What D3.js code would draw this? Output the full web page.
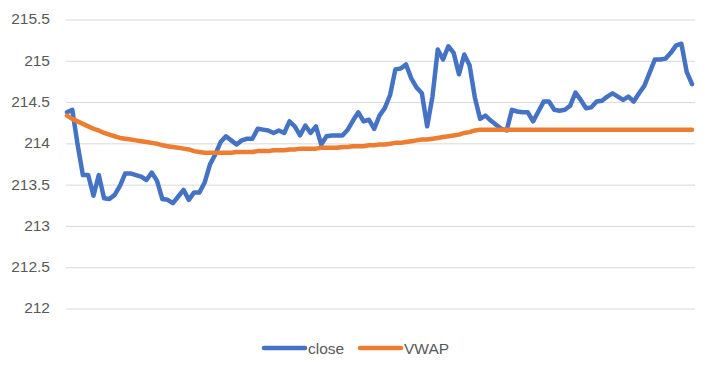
<!DOCTYPE html>
<html><head><meta charset="utf-8">
<script src="https://cdn.jsdelivr.net/npm/d3@7"></script>
<style>body{margin:0;background:#fff}svg{display:block}</style>
</head><body>
<svg id="c" width="711" height="370"></svg>
<script>
const closeVals = [
214.37,214.40,213.98,213.61,213.61,213.36,213.61,213.33,213.32,213.37,
213.48,213.63,213.63,213.61,213.59,213.55,213.64,213.54,213.32,213.31,
213.27,213.35,213.43,213.31,213.40,213.40,213.52,213.74,213.86,214.01,
214.08,214.03,213.98,214.03,214.05,214.05,214.17,214.16,214.15,214.12,
214.15,214.12,214.26,214.20,214.09,214.21,214.12,214.20,213.98,214.08,
214.09,214.09,214.09,214.16,214.27,214.37,214.26,214.28,214.17,214.33,
214.42,214.58,214.89,214.90,214.95,214.78,214.67,214.60,214.20,214.56,
215.13,215.01,215.17,215.09,214.83,215.07,214.94,214.55,214.29,214.33,
214.27,214.22,214.17,214.15,214.40,214.38,214.37,214.37,214.26,214.38,
214.50,214.50,214.40,214.39,214.40,214.45,214.61,214.52,214.42,214.43,
214.50,214.51,214.56,214.60,214.56,214.52,214.56,214.50,214.60,214.69,
214.85,215.01,215.01,215.02,215.09,215.18,215.20,214.86,214.71];
const vwapVals = [
214.33,214.29,214.26,214.23,214.20,214.17,214.15,214.12,214.10,214.08,
214.06,214.05,214.04,214.03,214.02,214.01,214.00,213.99,213.97,213.96,
213.95,213.94,213.93,213.92,213.90,213.89,213.88,213.88,213.88,213.88,
213.88,213.88,213.89,213.89,213.89,213.89,213.90,213.90,213.90,213.91,
213.91,213.91,213.92,213.92,213.93,213.93,213.93,213.93,213.94,213.94,
213.94,213.94,213.95,213.95,213.96,213.96,213.96,213.97,213.97,213.98,
213.98,213.99,214.00,214.00,214.01,214.02,214.03,214.04,214.04,214.05,
214.06,214.07,214.08,214.09,214.10,214.12,214.13,214.15,214.16,214.16,
214.16,214.16,214.16,214.16,214.16,214.16,214.16,214.16,214.16,214.16,
214.16,214.16,214.16,214.16,214.16,214.16,214.16,214.16,214.16,214.16,
214.16,214.16,214.16,214.16,214.16,214.16,214.16,214.16,214.16,214.16,
214.16,214.16,214.16,214.16,214.16,214.16,214.16,214.16,214.16];
const yTicks = [212, 212.5, 213, 213.5, 214, 214.5, 215, 215.5];
const seriesNames = ["close", "VWAP"];
const colors = ["#4472C4", "#ED7D31"];

const svg = d3.select("#c");
const font = "'Liberation Sans', Arial, sans-serif";
const y = d3.scaleLinear().domain([212, 215.5]).range([308, 19]);
const x = d3.scaleLinear().domain([0, closeVals.length - 1]).range([67, 692]);

const yAxis = d3.axisLeft(y).tickValues(yTicks).tickSize(-629).tickPadding(16)
  .tickFormat(d => String(d));
const g = svg.append("g").attr("transform", "translate(66,0)").call(yAxis);
g.select(".domain").remove();
g.selectAll(".tick line").attr("stroke", "#d9d9d9").attr("stroke-width", 1)
  .attr("transform", "translate(0,0.5)");
g.selectAll(".tick text").attr("fill", "#595959").style("font-family", font)
  .style("font-size", "15.5px").attr("x", -16);

const line = d3.line().x((d, i) => x(i)).y(d => y(d));
[closeVals, vwapVals].forEach((vals, k) => {
  svg.append("path").datum(vals).attr("d", line).attr("fill", "none")
    .attr("stroke", colors[k]).attr("stroke-width", 4.5)
    .attr("stroke-linejoin", "round").attr("stroke-linecap", "round");
});

// legend
const leg = svg.append("g");
const legX = [264, 360];
seriesNames.forEach((n, k) => {
  leg.append("line").attr("x1", legX[k]).attr("x2", legX[k] + 41)
    .attr("y1", 348).attr("y2", 348).attr("stroke", colors[k])
    .attr("stroke-width", 4.5).attr("stroke-linecap", "round");
  leg.append("text").attr("x", legX[k] + 44).attr("y", 353.5).text(n)
    .attr("fill", "#595959").style("font-family", font).style("font-size", "15.5px");
});
</script>
</body></html>
